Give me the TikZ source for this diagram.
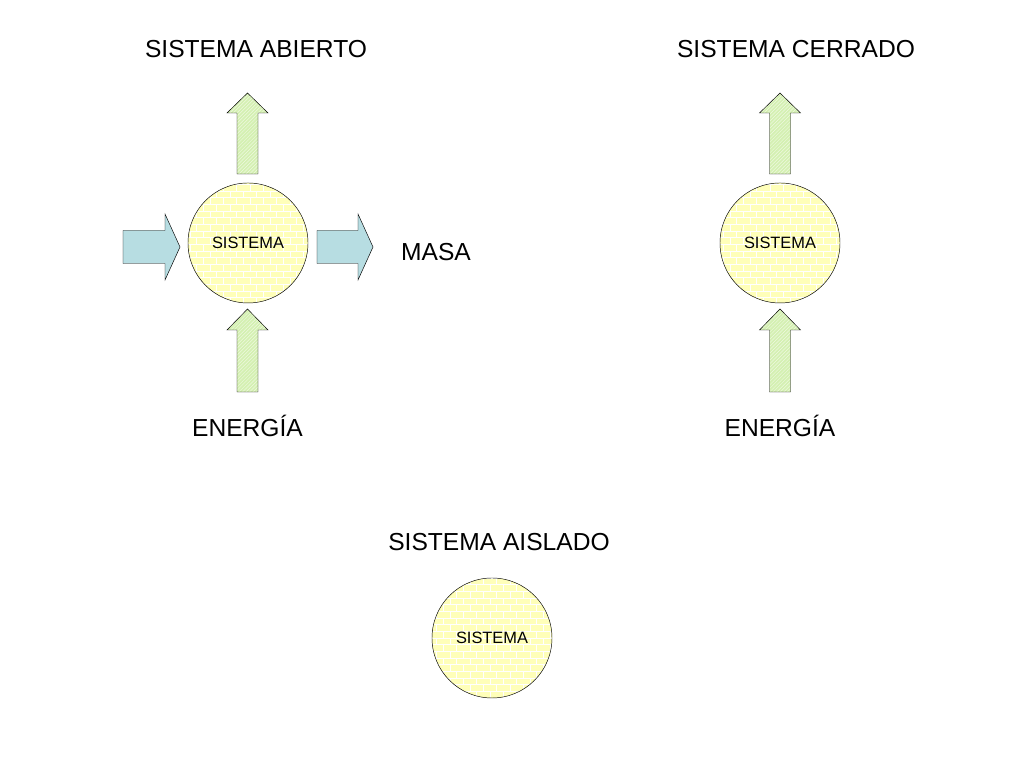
\documentclass[tikz,border=0pt]{standalone}
\usepackage{fontspec}
\setmainfont{Liberation Sans}
\usepackage{tikz}
\definecolor{ballyellow}{RGB}{255,255,185}
\definecolor{masablue}{RGB}{183,221,226}
\definecolor{energygreen}{RGB}{212,240,178}
\usetikzlibrary{patterns}

\tikzset{
  sysball/.style={circle,draw,thin,minimum size=3.6cm,inner sep=0pt,
    preaction={fill=ballyellow},pattern=bricks,pattern color=white,
    font=\fontsize{14}{16}\selectfont},
  masaarrow/.style={draw,thin,fill=masablue},
  energyarrow/.style={draw,thin,preaction={fill=energygreen},
    pattern=north east lines,pattern color=white!60!energygreen},
  bigtext/.style={anchor=base,inner sep=0pt,font=\fontsize{21}{25}\selectfont}
}

\begin{document}
\begin{tikzpicture}[x=0.03cm,y=0.03cm]
						
						\useasboundingbox (0,0) rectangle (1024,768);
						
						% sistema abierto
						\node[sysball] (abierto) at (248,525) {SISTEMA};
						\draw[masaarrow] (123,504.5) -- (165,504.5) -- (165,488) -- (180,521) -- (165,554) -- (165,537.5) -- (123,537.5) -- cycle;
						\draw[masaarrow] (317,504.5) -- (358,504.5) -- (358,488) -- (373,521) -- (358,554) -- (358,537.5) -- (317,537.5) -- cycle;
						\draw[energyarrow] (237,594) -- (237,655) -- (227,655) -- (247.5,675) -- (268,655) -- (258,655) -- (258,594) -- cycle;
						\draw[energyarrow] (237,376) -- (237,438) -- (227,438) -- (247.5,459) -- (268,438) -- (258,438) -- (258,376) -- cycle;
						
						\node[bigtext] (tabierto) at (256,710) {SISTEMA ABIERTO};
						\node[bigtext] (masa) at (436,507) {MASA};
						\node[bigtext] (eabierto) at (247.5,331) {ENERGÍA};
						
						% sistema cerrado
						\node[sysball] (cerrado) at (780,525) {SISTEMA};
						\draw[energyarrow] (769.5,594) -- (769.5,655) -- (759.5,655) -- (780,675) -- (800.5,655) -- (790.5,655) -- (790.5,594) -- cycle;
						\draw[energyarrow] (769.5,376) -- (769.5,438) -- (759.5,438) -- (780,459) -- (800.5,438) -- (790.5,438) -- (790.5,376) -- cycle;
						
						\node[bigtext] (tcerrado) at (796,710) {SISTEMA CERRADO};
						\node[bigtext] (ecerrado) at (780,331) {ENERGÍA};
						
						% sistema aislado
						\node[sysball] (aislado) at (492,130) {SISTEMA};
						\node[bigtext] (taislado) at (499,217) {SISTEMA AISLADO};
						
					\end{tikzpicture}
\end{document}
